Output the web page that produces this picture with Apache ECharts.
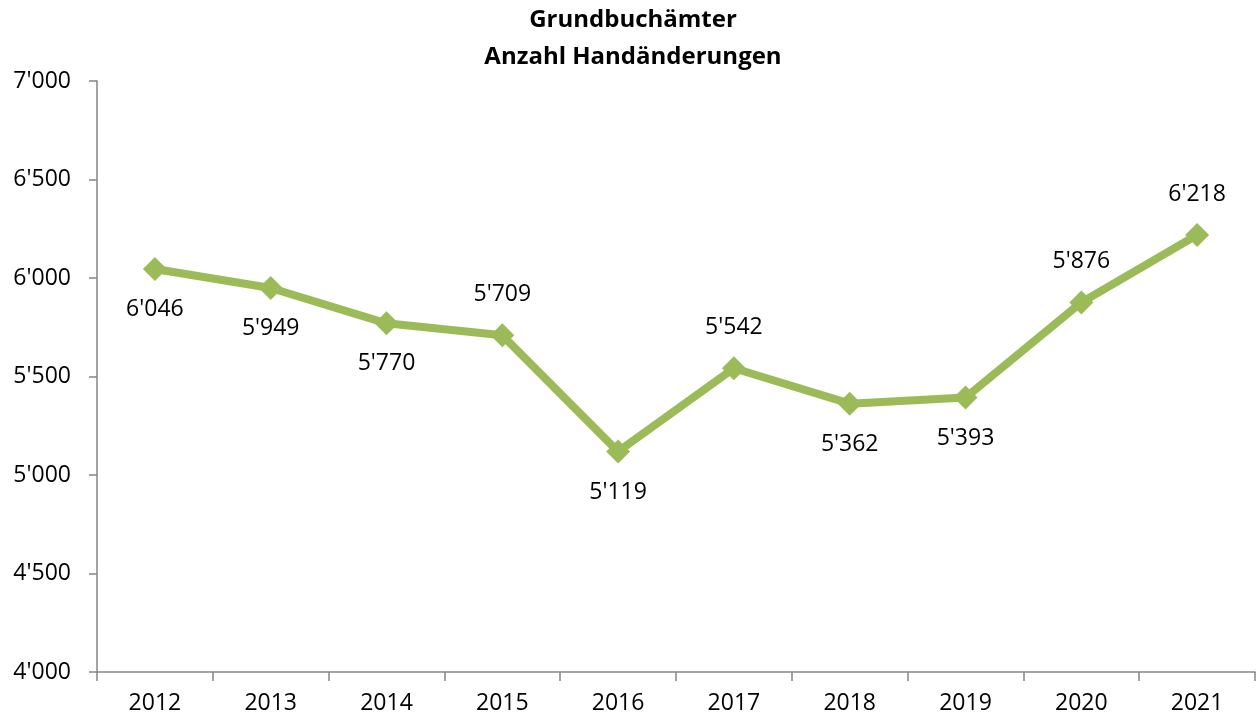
<!DOCTYPE html>
<html>
<head>
<meta charset="utf-8">
<script src="https://cdn.jsdelivr.net/npm/echarts@6/dist/echarts.min.js"></script>
<style>
  html, body { margin: 0; padding: 0; background: #fff; }
  #chart { width: 1258px; height: 721px; }
</style>
</head>
<body>
<div id="chart"></div>
<script>
const years = ["2012", "2013", "2014", "2015", "2016", "2017", "2018", "2019", "2020", "2021"];
const handaenderungen = [6046, 5949, 5770, 5709, 5119, 5542, 5362, 5393, 5876, 6218];
// label above or below the point, as in the original
const labelPos = ["bottom", "bottom", "bottom", "top", "bottom", "top", "bottom", "bottom", "top", "top"];

const fontFamily = "'Open Sans', sans-serif";
const fmt = (v) => String(v).replace(/\B(?=(\d{3})+(?!\d))/g, "'");

const chart = echarts.init(document.getElementById("chart"));
chart.setOption({
  animation: false,
  title: {
    text: "Grundbuchämter\nAnzahl Handänderungen",
    left: 628,
    textAlign: "center",
    top: -3,
    textStyle: { fontFamily, fontSize: 24, fontWeight: "bold", color: "#000", lineHeight: 37 },
  },
  grid: { left: 97, right: 3, top: 81, bottom: 49 },
  xAxis: {
    type: "category",
    data: years,
    boundaryGap: true,
    axisLine: { lineStyle: { color: "#868686", width: 1.5 } },
    axisTick: { show: true, length: 9, interval: 0, lineStyle: { color: "#868686", width: 1.5 } },
    axisLabel: { fontFamily, fontSize: 23, color: "#000", margin: 20 },
  },
  yAxis: {
    type: "value",
    min: 4000,
    max: 7000,
    interval: 500,
    splitLine: { show: false },
    axisLine: { show: true, lineStyle: { color: "#868686", width: 1.5 } },
    axisTick: { show: true, length: 8, lineStyle: { color: "#868686", width: 1.5 } },
    axisLabel: { fontFamily, fontSize: 23, color: "#000", margin: 26, formatter: fmt },
  },
  series: [
    {
      type: "line",
      data: handaenderungen.map((v, i) => ({
        value: v,
        label: { position: labelPos[i] },
      })),
      symbol: "diamond",
      symbolSize: 24,
      lineStyle: { color: "#9BBB59", width: 8 },
      itemStyle: { color: "#9BBB59" },
      label: {
        show: true,
        distance: 17,
        fontFamily,
        fontSize: 23,
        color: "#000",
        formatter: (p) => fmt(p.value),
      },
    },
  ],
});
</script>
</body>
</html>
